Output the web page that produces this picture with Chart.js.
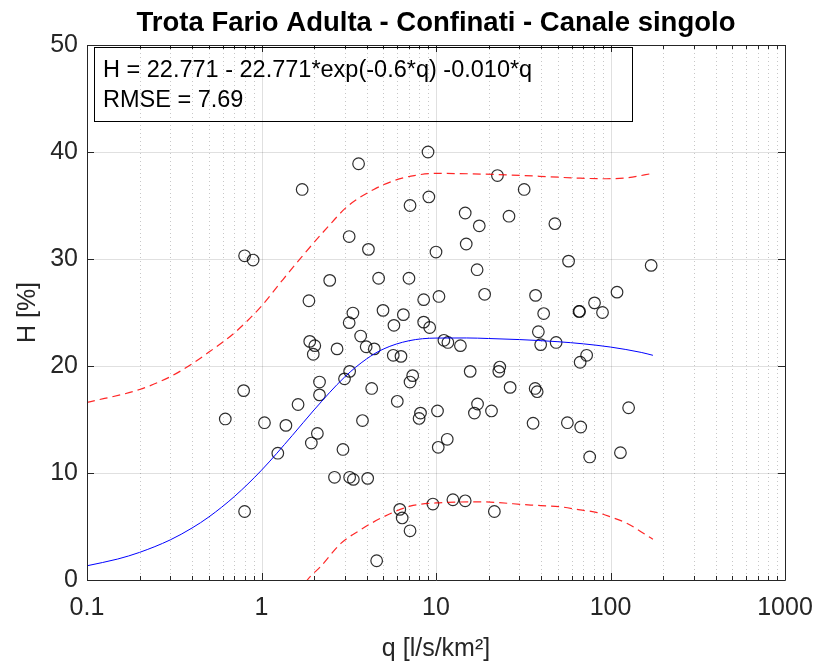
<!DOCTYPE html>
<html>
<head>
<meta charset="utf-8">
<script src="https://cdn.jsdelivr.net/npm/chart.js@4"></script>
<style>
  html, body { margin: 0; padding: 0; background: #fff; }
  #wrap { width: 815px; height: 668px; }
</style>
</head>
<body>
<div id="wrap"><canvas id="chart" width="815" height="668"></canvas></div>
<script>
// observed points (q [l/s/km2], H [%])
const qObs = [3.6, 1.71, 3.18, 4.1, 0.8, 0.895, 2.46, 4.69, 1.87, 4.97, 3.34, 3.18, 5.74, 3.7, 1.89, 2.02, 3.98, 4.43, 2.71, 1.98, 5.69,
  3.2, 2.99, 2.15, 0.79, 4.28, 2.15, 6.0, 1.62, 0.62, 1.04, 1.38, 3.79, 2.09, 1.93, 2.93, 1.24, 2.62, 3.2, 3.36, 4.06, 0.8, 4.57,
  9.0, 22.5, 32, 9.1, 7.1, 14.7, 26.2, 48, 17.7, 14.9, 10.0, 57.5, 17.2, 7.0, 8.5, 10.4, 19.0, 37.2, 6.5, 41.4, 66, 66.5,
  8.5, 9.2, 38.6, 11.1, 11.7, 13.8, 39.8, 48.8, 6.3, 7.35, 7.1, 15.7, 23.2, 22.9, 26.6, 37.0, 38.0, 67,
  17.3, 16.6, 20.8, 10.2, 8.15, 8.0, 36.0, 56.6, 67.5, 11.6, 10.3, 9.6, 12.5, 14.7, 21.6, 6.2, 6.4, 7.1,
  171, 109, 81, 90, 73, 127, 76, 114];
const hObs = [38.9, 36.5, 32.1, 30.9, 30.3, 29.9, 28.0, 28.2, 26.1, 25.2, 24.95, 24.05, 23.8, 22.8, 22.3, 21.9, 21.8, 21.6, 21.6, 21.1, 21.0,
  19.5, 18.8, 18.5, 17.7, 17.9, 17.3, 16.7, 16.4, 15.05, 14.7, 14.45, 14.9, 13.7, 12.8, 12.2, 11.85, 9.6, 9.6, 9.4, 9.5, 6.4, 1.8,
  40.0, 37.8, 36.5, 35.8, 35.0, 34.3, 34.0, 33.3, 33.1, 31.4, 30.65, 29.8, 29.0, 28.2, 26.2, 26.5, 26.7, 26.6, 24.8, 24.9, 25.1, 25.1,
  24.1, 23.6, 23.2, 22.4, 22.2, 21.9, 22.0, 22.2, 20.9, 19.1, 18.5, 19.5, 19.9, 19.5, 18.0, 17.9, 17.6, 20.35,
  16.45, 15.6, 15.8, 15.8, 15.6, 15.1, 14.65, 14.7, 14.3, 13.15, 12.4, 7.1, 7.5, 7.4, 6.4, 6.6, 5.8, 4.6,
  29.4, 26.9, 25.9, 25.0, 21.0, 16.1, 11.5, 11.9];

// fitted curve
const qFit = [0.1, 0.15, 0.2, 0.3, 0.4, 0.5, 0.7, 1, 1.5, 2, 3, 4, 5, 7, 10, 15, 20, 30, 50, 70, 100, 150, 175];
const hFit = [1.33, 1.96, 2.58, 3.75, 4.86, 5.9, 7.81, 10.26, 13.5, 15.89, 18.98, 20.66, 21.59, 22.36, 22.61, 22.62, 22.57, 22.47, 22.27, 22.07, 21.77, 21.27, 21.0];

// prediction bounds (red dashed)
const qUpper = [0.1, 0.2, 0.3, 0.4, 0.5, 0.7, 1.0, 1.3, 1.7, 2.4, 3.1, 4.4, 5.7, 7.5, 10, 22, 43, 67, 95, 125, 175];
const hUpper = [16.6, 17.8, 19.0, 20.2, 21.3, 23.1, 25.6, 27.9, 30.2, 33.0, 34.9, 36.5, 37.3, 37.8, 38.0, 37.9, 37.7, 37.55, 37.5, 37.6, 38.0];
const qLower = [1.5, 1.83, 2.18, 2.84, 3.7, 5.0, 7.1, 10, 18, 35, 51, 67, 84, 100, 124, 175];
const hLower = [-2.3, 0.0, 1.25, 3.4, 4.7, 5.9, 6.9, 7.2, 7.3, 7.0, 6.85, 6.55, 6.3, 5.9, 5.3, 3.8];

const xTicks = [0.1, 1, 10, 100, 1000];
const xMinor = [2, 3, 4, 5, 6, 7, 8, 9];
const yTicks = [0, 10, 20, 30, 40, 50];
const titleText = "Trota Fario Adulta - Confinati - Canale singolo";
const fitText = ["H = 22.771 - 22.771*exp(-0.6*q) -0.010*q", "RMSE = 7.69"];

const FONT = "'Liberation Sans', Arial, Helvetica, sans-serif";
const AXIS_COLOR = "#262626";

function pts(xs, ys) {
  return xs.map((x, i) => ({ x: x, y: ys[i] }));
}

// minor tick values for log axis
function minorValues() {
  const out = [];
  for (let d = 0; d < xTicks.length - 1; d++) {
    xMinor.forEach((m) => out.push(xTicks[d] * m));
  }
  return out;
}

// MATLAB style grid, boxed axes and inner ticks
const matlabAxes = {
  id: "matlabAxes",
  beforeDatasetsDraw(chart) {
    const { ctx, chartArea: a, scales } = chart;
    const x = scales.x, y = scales.y;
    ctx.save();
    ctx.lineWidth = 1;
    // minor vertical dotted
    ctx.strokeStyle = "rgba(0,0,0,0.22)";
    ctx.setLineDash([1, 3]);
    minorValues().forEach((v) => {
      const px = Math.round(x.getPixelForValue(v)) + 0.5;
      ctx.beginPath();
      ctx.moveTo(px, a.top);
      ctx.lineTo(px, a.bottom);
      ctx.stroke();
    });
    // major grid
    ctx.setLineDash([]);
    ctx.strokeStyle = "rgba(0,0,0,0.12)";
    xTicks.forEach((v) => {
      const px = Math.round(x.getPixelForValue(v)) + 0.5;
      ctx.beginPath();
      ctx.moveTo(px, a.top);
      ctx.lineTo(px, a.bottom);
      ctx.stroke();
    });
    yTicks.forEach((v) => {
      const py = Math.round(y.getPixelForValue(v)) + 0.5;
      ctx.beginPath();
      ctx.moveTo(a.left, py);
      ctx.lineTo(a.right, py);
      ctx.stroke();
    });
    ctx.restore();
  },
  afterDatasetsDraw(chart) {
    const { ctx, chartArea: a, scales } = chart;
    const x = scales.x, y = scales.y;
    ctx.save();
    ctx.strokeStyle = AXIS_COLOR;
    ctx.lineWidth = 1;
    ctx.beginPath();
    ctx.rect(Math.round(a.left) + 0.5, Math.round(a.top) + 0.5, Math.round(a.right - a.left), Math.round(a.bottom - a.top));
    ctx.stroke();
    const tick = (px, len) => {
      ctx.beginPath();
      ctx.moveTo(px, a.bottom);
      ctx.lineTo(px, a.bottom - len);
      ctx.moveTo(px, a.top);
      ctx.lineTo(px, a.top + len);
      ctx.stroke();
    };
    xTicks.forEach((v) => tick(Math.round(x.getPixelForValue(v)) + 0.5, 7));
    minorValues().forEach((v) => tick(Math.round(x.getPixelForValue(v)) + 0.5, 4));
    yTicks.forEach((v) => {
      const py = Math.round(y.getPixelForValue(v)) + 0.5;
      ctx.beginPath();
      ctx.moveTo(a.left, py);
      ctx.lineTo(a.left + 7, py);
      ctx.moveTo(a.right, py);
      ctx.lineTo(a.right - 7, py);
      ctx.stroke();
    });

    // title centred over the axes
    ctx.fillStyle = "#000";
    ctx.font = "bold 27.5px " + FONT;
    ctx.textAlign = "center";
    ctx.textBaseline = "middle";
    ctx.fillText(titleText, (a.left + a.right) / 2, 23);

    // equation box
    ctx.strokeStyle = "#000";
    ctx.strokeRect(94.5, 47.5, 538, 74);
    ctx.font = "23.5px " + FONT;
    ctx.textAlign = "left";
    ctx.fillText(fitText[0], 103, 71);
    ctx.fillText(fitText[1], 103, 101);
    ctx.restore();
  },
};

const ctx = document.getElementById("chart").getContext("2d");
const chart = new Chart(ctx, {
  type: "scatter",
  data: {
    datasets: [
      {
        label: "Dati",
        data: pts(qObs, hObs),
        pointStyle: "circle",
        pointRadius: 5.8,
        pointBorderWidth: 1.2,
        borderColor: "rgba(0,0,0,0.82)",
        backgroundColor: "rgba(0,0,0,0)",
        order: 3,
      },
      {
        label: "Fit",
        data: pts(qFit, hFit),
        showLine: true,
        cubicInterpolationMode: "monotone",
        borderColor: "#0000ff",
        borderWidth: 1,
        pointRadius: 0,
        order: 2,
      },
      {
        label: "Limite sup.",
        data: pts(qUpper, hUpper),
        showLine: true,
        cubicInterpolationMode: "monotone",
        borderColor: "rgba(255,0,0,0.85)",
        borderWidth: 1.2,
        borderDash: [8, 5],
        pointRadius: 0,
        order: 1,
      },
      {
        label: "Limite inf.",
        data: pts(qLower, hLower),
        showLine: true,
        cubicInterpolationMode: "monotone",
        borderColor: "rgba(255,0,0,0.85)",
        borderWidth: 1.2,
        borderDash: [8, 5],
        pointRadius: 0,
        order: 1,
      },
    ],
  },
  options: {
    responsive: false,
    animation: false,
    layout: {
      padding: { left: 0, right: 30, top: 45, bottom: 0 },
    },
    scales: {
      x: {
        type: "logarithmic",
        min: 0.1,
        max: 1000,
        afterBuildTicks: (s) => {
          s.ticks = xTicks.map((v) => ({ value: v }));
        },
        afterFit: (s) => {
          s.height = 88;
          s.paddingLeft = 0;
          s.paddingRight = 0;
        },
        grid: { display: false, drawTicks: false },
        border: { display: false },
        ticks: {
          autoSkip: false,
          maxRotation: 0,
          padding: 13,
          color: AXIS_COLOR,
          font: { family: FONT, size: 25 },
          callback: (v) => String(v),
        },
        title: {
          display: true,
          text: "q [l/s/km\u00B2]",
          color: AXIS_COLOR,
          font: { family: FONT, size: 25 },
          padding: { top: 0, bottom: 4 },
        },
      },
      y: {
        min: 0,
        max: 50,
        afterBuildTicks: (s) => {
          s.ticks = yTicks.map((v) => ({ value: v }));
        },
        afterFit: (s) => {
          s.width = 87;
          s.paddingTop = 0;
          s.paddingBottom = 0;
        },
        grid: { display: false, drawTicks: false },
        border: { display: false },
        ticks: {
          padding: 9,
          color: AXIS_COLOR,
          font: { family: FONT, size: 25 },
        },
        title: {
          display: true,
          text: "H [%]",
          color: AXIS_COLOR,
          font: { family: FONT, size: 25 },
          padding: { top: 13, bottom: 0 },
        },
      },
    },
    plugins: {
      legend: { display: false },
      tooltip: { enabled: false },
      title: { display: false },
    },
  },
  plugins: [matlabAxes],
});
</script>
</body>
</html>
